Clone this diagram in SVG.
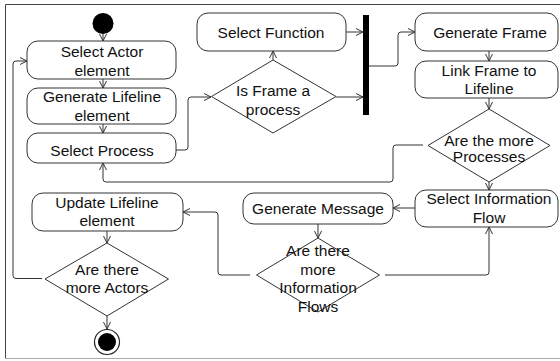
<svg xmlns="http://www.w3.org/2000/svg" width="560" height="361" viewBox="0 0 560 361">
  <defs>
    <style>
      .act { fill: #ffffff; stroke: #333333; stroke-width: 1; }
      .dec { fill: #ffffff; stroke: #333333; stroke-width: 1; }
      .lbl { font-family: "Liberation Sans", Arial, sans-serif; font-size: 15.5px; fill: #111111; text-anchor: middle; }
      .flow { fill: none; stroke: #333333; stroke-width: 1; marker-end: url(#open); }
      .line { fill: none; stroke: #333333; stroke-width: 1; }
    </style>
    <marker id="open" markerUnits="userSpaceOnUse" markerWidth="9" markerHeight="9" refX="7" refY="4" orient="auto">
      <path d="M0,0.5 L7,4 L0,7.5" fill="none" stroke="#333333" stroke-width="1"/>
    </marker>
  </defs>

  <rect width="560" height="361" fill="#ffffff"/>

  <!-- frame -->
  <g id="frame">
    <path d="M5.5,358.5 V4.5 H560" fill="none" stroke="#444444" stroke-width="1"/>
    <line x1="5" y1="358.5" x2="560" y2="358.5" stroke="#aaaaaa" stroke-width="1"/>
  </g>

  <!-- connectors -->
  <g id="connectors">
    <path class="flow" d="M103,34 V41"/>
    <path class="flow" d="M103,79 V88"/>
    <path class="flow" d="M103,124 V133"/>
    <path class="flow" d="M176,150 H185 Q188,150 188,147 V100 Q188,97 191,97 H211"/>
    <path class="flow" d="M273,60 V51"/>
    <path class="flow" d="M346,32 H363"/>
    <path class="flow" d="M336,97 H363"/>
    <path class="flow" d="M369,66 H395 Q398,66 398,63 V35 Q398,32 401,32 H415"/>
    <path class="flow" d="M489,51 V61"/>
    <path class="flow" d="M489,98 V109"/>
    <path class="flow" d="M423,145 H396 Q393,145 393,148 V179 Q393,182 390,182 H106 Q103,182 103,179 V163"/>
    <path class="flow" d="M489,182 V190"/>
    <path class="flow" d="M415,208 H393"/>
    <path class="flow" d="M318,224 V238"/>
    <path class="flow" d="M385,275 H486 Q489,275 489,272 V227"/>
    <path class="flow" d="M250,275 H221 Q218,275 218,272 V215 Q218,212 215,212 H183"/>
    <path class="flow" d="M107,231 V243"/>
    <path class="flow" d="M42,278.5 H16 Q13,278.5 13,275.5 V64 Q13,61 16,61 H27"/>
    <path class="flow" d="M107,316 V329"/>
  </g>

  <!-- initial node -->
  <g id="start">
    <circle cx="103" cy="23.5" r="10.5" fill="#000000"/>
  </g>

  <g id="selectActor">
    <rect class="act" x="27" y="41" width="149" height="38" rx="11"/>
    <text class="lbl" x="102" y="57">Select Actor</text>
    <text class="lbl" x="102" y="75.5">element</text>
  </g>

  <g id="generateLifeline">
    <rect class="act" x="27" y="88" width="149" height="36" rx="11"/>
    <text class="lbl" x="102" y="102">Generate Lifeline</text>
    <text class="lbl" x="102" y="121">element</text>
  </g>

  <g id="selectProcess">
    <rect class="act" x="27" y="133" width="149" height="30" rx="11"/>
    <text class="lbl" x="102" y="155.5">Select Process</text>
  </g>

  <g id="selectFunction">
    <rect class="act" x="197" y="13" width="149" height="38" rx="11"/>
    <text class="lbl" x="271" y="37.5">Select Function</text>
  </g>

  <g id="isFrameProcess">
    <polygon class="dec" points="273,60 336,96.5 273,133 211.5,96.5"/>
    <text class="lbl" x="273" y="96">Is Frame a</text>
    <text class="lbl" x="273" y="114.5">process</text>
  </g>

  <!-- fork bar -->
  <g id="fork">
    <rect x="363" y="15" width="6" height="100" fill="#000000"/>
  </g>

  <g id="generateFrame">
    <rect class="act" x="415" y="13" width="143" height="38" rx="11"/>
    <text class="lbl" x="490" y="37.5">Generate Frame</text>
  </g>

  <g id="linkFrame">
    <rect class="act" x="415" y="61" width="143" height="37" rx="11"/>
    <text class="lbl" x="489" y="75.5">Link Frame to</text>
    <text class="lbl" x="489" y="94">Lifeline</text>
  </g>

  <g id="moreProcesses">
    <polygon class="dec" points="489,109 550,145.5 489,182 428,145.5"/>
    <text class="lbl" x="489" y="146">Are the more</text>
    <text class="lbl" x="489" y="162">Processes</text>
  </g>

  <g id="selectInfoFlow">
    <rect class="act" x="415" y="190" width="143" height="37" rx="11"/>
    <text class="lbl" x="489" y="203.5">Select Information</text>
    <text class="lbl" x="489" y="222.5">Flow</text>
  </g>

  <g id="generateMessage">
    <rect class="act" x="243" y="193" width="150" height="31" rx="11"/>
    <text class="lbl" x="318" y="214">Generate Message</text>
  </g>

  <g id="moreInfoFlows">
    <polygon class="dec" points="318,238 379.5,275 318,312 256.5,275"/>
    <text class="lbl" x="318" y="255.5">Are there</text>
    <text class="lbl" x="318" y="274.5">more</text>
    <text class="lbl" x="318" y="293">Information</text>
    <text class="lbl" x="318" y="312">Flows</text>
  </g>

  <g id="updateLifeline">
    <rect class="act" x="32" y="193" width="151" height="38" rx="11"/>
    <text class="lbl" x="107" y="207.5">Update Lifeline</text>
    <text class="lbl" x="107" y="226">element</text>
  </g>

  <g id="moreActors">
    <polygon class="dec" points="107,243 168.5,279 107,316 45,279"/>
    <text class="lbl" x="107" y="275">Are there</text>
    <text class="lbl" x="107" y="293">more Actors</text>
  </g>

  <!-- final node -->
  <g id="end">
    <circle cx="107" cy="342" r="12.5" fill="#ffffff" stroke="#222222" stroke-width="1.2"/>
    <circle cx="107" cy="342" r="9" fill="#000000"/>
  </g>
</svg>
